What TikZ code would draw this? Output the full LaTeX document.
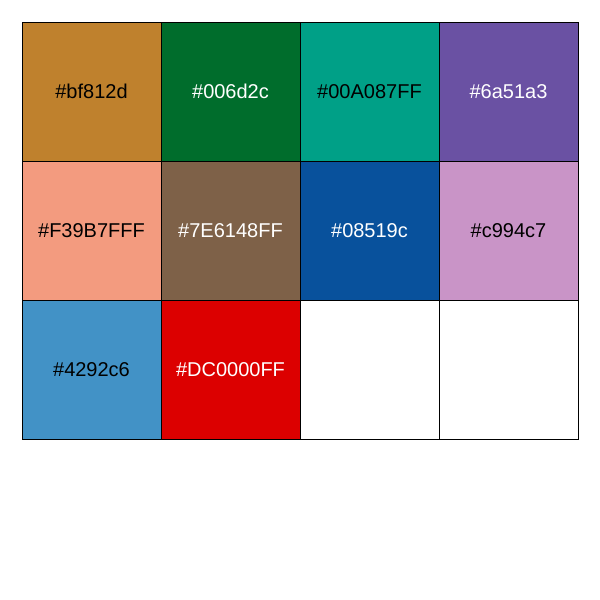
\documentclass[tikz,border=0pt]{standalone}
\usepackage{fontspec}
\setmainfont{Liberation Sans}
\usepackage{tikz}
\usetikzlibrary{positioning}
\definecolor{cA}{HTML}{BF812D}
\definecolor{cB}{HTML}{006D2C}
\definecolor{cC}{HTML}{00A087}
\definecolor{cD}{HTML}{6A51A3}
\definecolor{cE}{HTML}{F39B7F}
\definecolor{cF}{HTML}{7E6148}
\definecolor{cG}{HTML}{08519C}
\definecolor{cH}{HTML}{C994C7}
\definecolor{cI}{HTML}{4292C6}
\definecolor{cJ}{HTML}{DC0000}
\tikzstyle{swatch}=[draw=black,line width=1pt,minimum size=139pt,inner sep=0pt,font=\fontsize{20}{24}\selectfont]

\begin{document}
\begin{tikzpicture}[x=1pt,y=-1pt]
    \useasboundingbox[fill=white] (0,0) rectangle (600,600);
    % first row
    \node [swatch, fill=cA, text=black] (a) at (91.5,91.5) {\#bf812d};
    \node [swatch, fill=cB, text=white] (b) at (230.5,91.5) {\#006d2c};
    \node [swatch, fill=cC, text=black] (c) at (369.5,91.5) {\#00A087FF};
    \node [swatch, fill=cD, text=white] (d) at (508.5,91.5) {\#6a51a3};
    % second row
    \node [swatch, fill=cE, text=black] (e) at (91.5,230.5) {\#F39B7FFF};
    \node [swatch, fill=cF, text=white] (f) at (230.5,230.5) {\#7E6148FF};
    \node [swatch, fill=cG, text=white] (g) at (369.5,230.5) {\#08519c};
    \node [swatch, fill=cH, text=black] (h) at (508.5,230.5) {\#c994c7};
    % third row
    \node [swatch, fill=cI, text=black] (i) at (91.5,369.5) {\#4292c6};
    \node [swatch, fill=cJ, text=white] (j) at (230.5,369.5) {\#DC0000FF};
    \node [swatch, fill=white] (k) at (369.5,369.5) {};
    \node [swatch, fill=white] (l) at (508.5,369.5) {};
\end{tikzpicture}
\end{document}
